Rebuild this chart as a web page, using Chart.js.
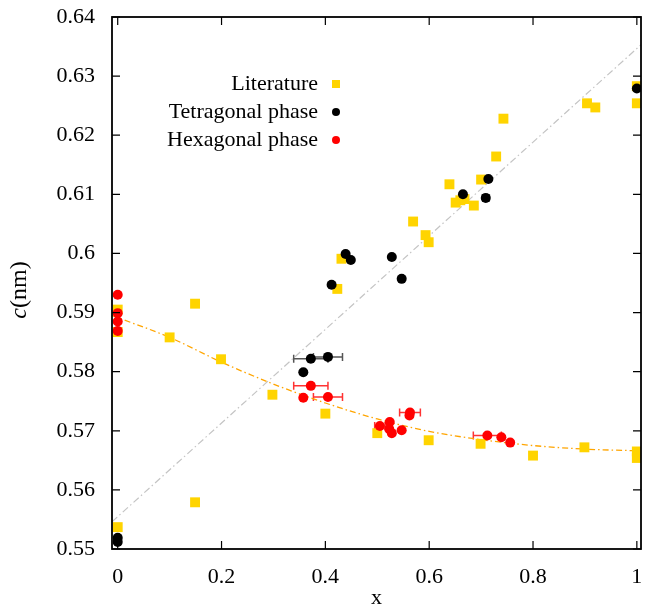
<!DOCTYPE html>
<html>
<head>
<meta charset="utf-8">
<script src="https://cdn.jsdelivr.net/npm/chart.js@4"></script>
<style>
html, body { margin: 0; padding: 0; background: #fff; }
</style>
</head>
<body>
<canvas id="myChart" width="648" height="613"></canvas>
<script>
// literature values
var litX = [0, 0, 0, 0.1, 0.149, 0.149, 0.199, 0.298, 0.4, 0.423, 0.431, 0.5, 0.569, 0.593, 0.599, 0.599,
            0.639, 0.651, 0.66, 0.668, 0.686, 0.7, 0.699, 0.729, 0.743, 0.8, 0.899, 0.904, 0.92, 1, 1, 1, 1];
var litY = [0.5905, 0.5867, 0.5537, 0.5858, 0.5915, 0.5579, 0.5821, 0.5761, 0.5729, 0.5940, 0.5991, 0.5696, 0.6054, 0.6031, 0.6019, 0.5684,
            0.6117, 0.6086, 0.6090, 0.6092, 0.6081, 0.6125, 0.5678, 0.6164, 0.6228, 0.5658, 0.5672, 0.6254, 0.6247, 0.6283, 0.6254, 0.5665, 0.5654];

// tetragonal phase
var tetX = [0, 0, 0.3575, 0.372, 0.405, 0.412, 0.439, 0.449, 0.528, 0.547, 0.665, 0.709, 0.714, 1];
var tetY = [0.5519, 0.5512, 0.5799, 0.5822, 0.5825, 0.5947, 0.5999, 0.5989, 0.5994, 0.5957, 0.6100, 0.6094, 0.6126, 0.6279];
var tetErr = [0, 0, 0, 0.033, 0.028, 0, 0, 0, 0, 0, 0, 0.006, 0, 0];

// hexagonal phase
var hexX = [0, 0, 0, 0, 0.3575, 0.372, 0.405, 0.505, 0.524, 0.523, 0.528, 0.547, 0.563, 0.562, 0.712, 0.739, 0.756];
var hexY = [0.5930, 0.5899, 0.5885, 0.5869, 0.5756, 0.5776, 0.5757, 0.5708, 0.5715, 0.5703, 0.5696, 0.5701, 0.5731, 0.5726, 0.5692, 0.5689, 0.5680];
var hexErr = [0, 0, 0, 0, 0, 0.033, 0.028, 0.01, 0, 0, 0, 0, 0.02, 0, 0.027, 0, 0];

// guide lines
var vegX = [-0.011, 1.008];
var vegY = [0.5546, 0.6353];
var fitX = [-0.011, 0.1, 0.2, 0.3, 0.4, 0.5, 0.6, 0.7, 0.8, 0.9, 1.008];
var fitY = [0.5895, 0.5858, 0.5816, 0.5779, 0.5747, 0.5720, 0.5699, 0.5685, 0.5675, 0.5669, 0.5666];

var xTicks = [0, 0.2, 0.4, 0.6, 0.8, 1];
var yTicks = [0.55, 0.56, 0.57, 0.58, 0.59, 0.6, 0.61, 0.62, 0.63, 0.64];

var seriesNames = ['Literature', 'Tetragonal phase', 'Hexagonal phase'];
var FONT = '"Liberation Serif", "DejaVu Serif", serif';

function pts(xs, ys) {
  return xs.map(function (x, i) { return { x: x, y: ys[i] }; });
}

var decor = {
  id: 'decor',
  beforeDatasetsDraw: function (chart) {
    var ctx = chart.ctx, sx = chart.scales.x, sy = chart.scales.y;
    function bars(xs, ys, errs, col) {
      ctx.save();
      ctx.strokeStyle = col;
      ctx.lineWidth = 1.5;
      for (var i = 0; i < xs.length; i++) {
        if (!errs[i]) continue;
        var a = sx.getPixelForValue(xs[i] - errs[i]);
        var b = sx.getPixelForValue(xs[i] + errs[i]);
        var py = sy.getPixelForValue(ys[i]);
        ctx.beginPath();
        ctx.moveTo(a, py); ctx.lineTo(b, py);
        ctx.moveTo(a, py - 4); ctx.lineTo(a, py + 4);
        ctx.moveTo(b, py - 4); ctx.lineTo(b, py + 4);
        ctx.stroke();
      }
      ctx.restore();
    }
    bars(tetX, tetY, tetErr, '#555555');
    bars(hexX, hexY, hexErr, '#ff3333');
  },
  afterDatasetsDraw: function (chart) {
    var ctx = chart.ctx, a = chart.chartArea, sx = chart.scales.x, sy = chart.scales.y;
    ctx.save();
    ctx.strokeStyle = '#000';
    ctx.lineWidth = 1.2;
    ctx.beginPath();
    xTicks.forEach(function (v) {
      var p = sx.getPixelForValue(v);
      ctx.moveTo(p, a.bottom); ctx.lineTo(p, a.bottom - 8);
      ctx.moveTo(p, a.top); ctx.lineTo(p, a.top + 8);
    });
    yTicks.forEach(function (v) {
      var p = sy.getPixelForValue(v);
      ctx.moveTo(a.left, p); ctx.lineTo(a.left + 8, p);
      ctx.moveTo(a.right, p); ctx.lineTo(a.right - 8, p);
    });
    ctx.stroke();
    ctx.lineWidth = 1.8;
    ctx.strokeRect(a.left, a.top, a.right - a.left, a.bottom - a.top);
    ctx.restore();
  },
  afterDraw: function (chart) {
    var ctx = chart.ctx, a = chart.chartArea;
    ctx.save();
    ctx.fillStyle = '#000';
    ctx.font = '22px ' + FONT;
    ctx.textBaseline = 'middle';
    // legend
    var rows = [84, 112, 140];
    var cols = ['#ffd400', '#000000', '#ff0000'];
    for (var i = 0; i < 3; i++) {
      ctx.fillStyle = '#000';
      ctx.textAlign = 'right';
      ctx.fillText(seriesNames[i], 318, rows[i]);
      ctx.fillStyle = cols[i];
      if (i === 0) {
        ctx.fillRect(332, rows[i] - 4, 8, 8);
      } else {
        ctx.beginPath();
        ctx.arc(336, rows[i], 4, 0, Math.PI * 2);
        ctx.fill();
      }
    }
    // x title
    ctx.fillStyle = '#000';
    ctx.textAlign = 'center';
    ctx.fillText('x', (a.left + a.right) / 2, 598);
    // y title
    ctx.translate(20, 290);
    ctx.rotate(-Math.PI / 2);
    ctx.font = 'italic 24px ' + FONT;
    var w1 = ctx.measureText('c').width;
    ctx.font = '24px ' + FONT;
    var w2 = ctx.measureText('(nm)').width;
    var x0 = -(w1 + w2) / 2;
    ctx.textAlign = 'left';
    ctx.font = 'italic 24px ' + FONT;
    ctx.fillText('c', x0, 0);
    ctx.font = '24px ' + FONT;
    ctx.fillText('(nm)', x0 + w1, 0);
    ctx.restore();
  }
};

var ctx = document.getElementById('myChart');
var myChart = new Chart(ctx, {
  type: 'scatter',
  data: {
    datasets: [
      {
        label: seriesNames[2],
        data: pts(hexX, hexY),
        backgroundColor: '#ff0000',
        pointRadius: 5,
        pointBorderWidth: 0,
        order: 0
      },
      {
        label: seriesNames[1],
        data: pts(tetX, tetY),
        backgroundColor: '#000000',
        pointRadius: 5,
        pointBorderWidth: 0,
        order: 1
      },
      {
        label: seriesNames[0],
        data: pts(litX, litY),
        backgroundColor: '#ffd400',
        pointStyle: 'rect',
        pointRadius: 7,
        pointBorderWidth: 0,
        order: 2
      },
      {
        label: 'fit',
        data: pts(fitX, fitY),
        showLine: true,
        borderColor: '#ffa500',
        borderWidth: 1.3,
        borderDash: [6, 3, 1.5, 3],
        cubicInterpolationMode: 'monotone',
        pointRadius: 0,
        order: 3
      },
      {
        label: 'vegard',
        data: pts(vegX, vegY),
        showLine: true,
        borderColor: '#c4c4c4',
        borderWidth: 1.2,
        borderDash: [7, 3, 1.5, 3],
        pointRadius: 0,
        order: 4
      }
    ]
  },
  options: {
    responsive: false,
    animation: false,
    devicePixelRatio: 1,
    layout: { padding: { top: 17, right: 0, left: 0, bottom: 0 } },
    plugins: { legend: { display: false }, tooltip: { enabled: false } },
    scales: {
      x: {
        type: 'linear',
        min: -0.011,
        max: 1.008,
        grid: { display: false, drawTicks: false },
        border: { display: false },
        afterBuildTicks: function (s) { s.ticks = xTicks.map(function (v) { return { value: v }; }); },
        afterFit: function (s) { s.height = 64; s.paddingLeft = 0; s.paddingRight = 0; },
        ticks: {
          padding: 15,
          color: '#000',
          font: { family: FONT, size: 22 },
          callback: function (v) { return String(+v.toFixed(2)); }
        }
      },
      y: {
        type: 'linear',
        min: 0.55,
        max: 0.64,
        grid: { display: false, drawTicks: false },
        border: { display: false },
        afterBuildTicks: function (s) { s.ticks = yTicks.map(function (v) { return { value: v }; }); },
        afterFit: function (s) { s.width = 112; s.paddingTop = 0; s.paddingBottom = 0; },
        ticks: {
          padding: 17,
          color: '#000',
          font: { family: FONT, size: 22 },
          callback: function (v) { return String(+v.toFixed(2)); }
        }
      }
    }
  },
  plugins: [decor]
});
</script>
</body>
</html>
